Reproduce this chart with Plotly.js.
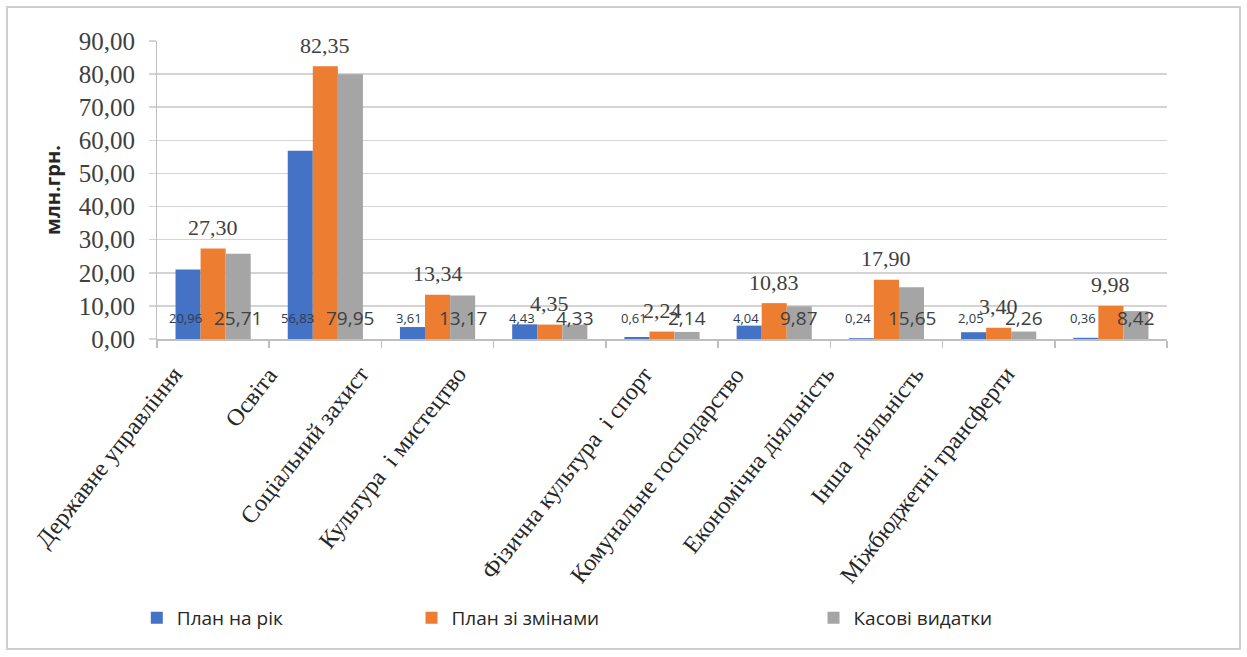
<!DOCTYPE html>
<html>
<head>
<meta charset="utf-8">
<script src="https://cdn.plot.ly/plotly-3.0.1.min.js"></script>
<style>
  html, body { margin: 0; padding: 0; background: #ffffff; }
  #frame { position: absolute; left: 6px; top: 6px; width: 1231px; height: 640px; border: 2px solid #cfcfcf; }
  #chart { position: absolute; left: 0; top: 0; width: 1247px; height: 657px; }
</style>
</head>
<body>
<div id="frame"></div>
<div id="chart"></div>
<script>
// ---- data ----
const categories = [
  "Державне управління",
  "Освіта",
  "Соціальний захист",
  "Культура  і мистецтво",
  "Фізична культура  і спорт",
  "Комунальне господарство",
  "Економічна діяльність",
  "Інша  діяльність",
  "Міжбюджетні трансферти"
];
const seriesNames = ["План на рік", "План зі змінами", "Касові видатки"];
const planYear    = [20.96, 56.83, 3.61, 4.43, 0.61, 4.04, 0.24, 2.05, 0.36];
const planChanged = [27.30, 82.35, 13.34, 4.35, 2.24, 10.83, 17.90, 3.40, 9.98];
const cashSpent   = [25.71, 79.95, 13.17, 4.33, 2.14, 9.87, 15.65, 2.26, 8.42];

// ---- style ----
const colors = ["#4472C4", "#ED7D31", "#A5A5A5"];
const bargap = 0.33;
const barW = (1 - bargap) / 3;           // width of one bar in category units
const baseLabelY = 6.3;                   // "inside base" label height (Excel style)
const labelShift = [-0.27, -0.42, -0.60, -0.74, -0.08, -0.26, -0.46, -0.66, -0.85];

function fmt(v) { return v.toFixed(2).replace(".", ","); }

const traces = [planYear, planChanged, cashSpent].map((vals, k) => ({
  type: "bar",
  name: seriesNames[k],
  x: categories,
  y: vals,
  marker: { color: colors[k] },
  legend: k === 0 ? "legend" : ("legend" + (k + 1)),
  hoverinfo: "skip"
}));

const annotations = [];
categories.forEach((c, i) => {
  annotations.push({
    x: i - barW, y: baseLabelY, xref: "x", yref: "y", text: fmt(planYear[i]),
    showarrow: false, xanchor: "center", yanchor: "middle", xshift: -3,
    font: { family: "Open Sans, sans-serif", size: 13, color: "#2f3b4c" }
  });
  annotations.push({
    x: i, y: planChanged[i], xref: "x", yref: "y", text: fmt(planChanged[i]),
    showarrow: false, xanchor: "center", yanchor: "middle", yshift: 21,
    font: { family: "Liberation Serif, serif", size: 22, color: "#404040" }
  });
  annotations.push({
    x: i + barW, y: baseLabelY, xref: "x", yref: "y", text: fmt(cashSpent[i]),
    showarrow: false, xanchor: "center", yanchor: "middle",
    font: { family: "Open Sans, sans-serif", size: 19, color: "#404040" }
  });
  // category labels (rotated)
  annotations.push({
    x: i + labelShift[i], y: 0, xref: "x", yref: "y", xshift: 7, yshift: -20,
    text: c, showarrow: false, textangle: -52,
    xanchor: "right", yanchor: "top",
    font: { family: "Liberation Serif, serif", size: 24, color: "#262626" }
  });
});

const legendFont = { family: "Open Sans, sans-serif", size: 19, color: "#262626" };
const layout = {
  width: 1247, height: 657,
  margin: { l: 157, r: 80, t: 41, b: 318 },
  paper_bgcolor: "rgba(0,0,0,0)",
  plot_bgcolor: "rgba(0,0,0,0)",
  separators: ", ",
  barmode: "group",
  bargap: bargap,
  bargroupgap: 0,
  xaxis: {
    type: "category",
    range: [-0.5, categories.length - 0.5],
    showgrid: false, zeroline: false,
    showline: true, linecolor: "#bfbfbf", linewidth: 1.5,
    ticks: "outside", tickson: "boundaries", ticklen: 7, tickcolor: "#bfbfbf", tickwidth: 1.5,
    showticklabels: false
  },
  yaxis: {
    range: [0, 90], dtick: 10, tick0: 0,
    tickformat: ".2f",
    gridcolor: "#d4d4d4", gridwidth: 1.5,
    zeroline: false,
    showline: true, linecolor: "#bfbfbf", linewidth: 1,
    ticks: "outside", ticklen: 7, tickcolor: "#d4d4d4", tickwidth: 1.5,
    ticklabelstandoff: 9,
    tickfont: { family: "Liberation Serif, serif", size: 25, color: "#404040" },
    title: { text: "млн.грн.", standoff: 12,
             font: { family: "Open Sans, sans-serif", size: 20, color: "#262626", weight: "bold" } }
  },
  showlegend: true,
  legend:  { orientation: "h", x: -0.02, y: -0.936, xanchor: "left", yanchor: "middle", font: legendFont, bgcolor: "rgba(0,0,0,0)" },
  legend2: { orientation: "h", x: 0.252,  y: -0.936, xanchor: "left", yanchor: "middle", font: legendFont, bgcolor: "rgba(0,0,0,0)" },
  legend3: { orientation: "h", x: 0.650,  y: -0.936, xanchor: "left", yanchor: "middle", font: legendFont, bgcolor: "rgba(0,0,0,0)" },
  annotations: annotations
};

Plotly.newPlot("chart", traces, layout, { staticPlot: true, displayModeBar: false });
</script>
</body>
</html>
